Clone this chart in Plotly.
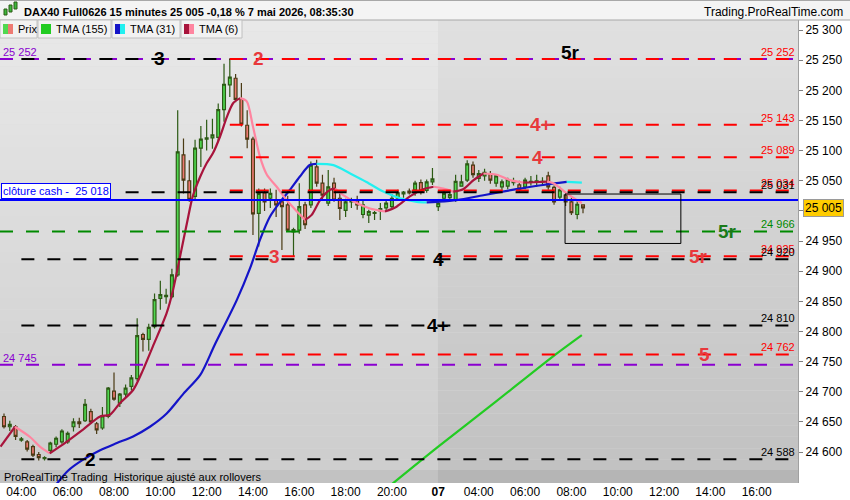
import plotly.graph_objects as go

# ---------------- data ----------------
bar_open = [24659, 24642, 24642, 24620, 24617, 24609, 24596, 24589, 24603, 24613,
            24617, 24617, 24642, 24650, 24652, 24667, 24647, 24640, 24659, 24701,
            24681, 24696, 24709, 24722, 24795, 24787, 24808, 24855, 24858, 24858,
            24894, 25093, 25050, 25024, 25104, 25119, 25121, 25122, 25168, 25209,
            25220, 25185, 25142, 25119, 24996, 25030, 25021, 25018, 25015, 25010,
            24965, 24968, 25010, 25010, 25073, 25046, 25013, 25046, 25021, 25001,
            25015, 25017, 24994, 24993, 24996, 25000, 25005, 25007, 25021, 25028,
            25033, 25035, 25047, 25034, 25048, 25007, 25021, 25022, 25018, 25041,
            25051, 25076, 25054, 25058, 25062, 25046, 25040, 25041, 25047, 25043,
            25040, 25048, 25049, 25048, 25058, 25039, 25023, 25026, 25015, 24994,
            25010]
bar_high = [24664, 24652, 24645, 24625, 24620, 24612, 24600, 24593, 24617, 24626,
            24638, 24634, 24656, 24657, 24688, 24672, 24650, 24675, 24708, 24732,
            24698, 24712, 24728, 24822, 24798, 24813, 24863, 24884, 24871, 24904,
            25167, 25120, 25084, 25118, 25141, 25151, 25153, 25178, 25244, 25252,
            25227, 25212, 25167, 25123, 25037, 25037, 25037, 25035, 25018, 25025,
            24972, 25046, 25015, 25082, 25085, 25060, 25068, 25055, 25030, 25020,
            25022, 25025, 25017, 25002, 25000, 25013, 25018, 25028, 25035, 25033,
            25037, 25050, 25052, 25052, 25071, 25018, 25033, 25030, 25060, 25060,
            25084, 25082, 25068, 25070, 25066, 25060, 25052, 25055, 25055, 25050,
            25055, 25058, 25060, 25056, 25065, 25042, 25040, 25030, 25022, 25016,
            25011]
bar_low = [24639, 24635, 24620, 24617, 24601, 24592, 24586, 24586, 24598, 24608,
           24614, 24614, 24634, 24640, 24650, 24647, 24630, 24637, 24656, 24685,
           24675, 24690, 24702, 24718, 24767, 24768, 24805, 24836, 24846, 24855,
           24891, 25029, 25015, 25019, 25073, 25100, 25103, 25115, 25148, 25189,
           25180, 25140, 25104, 24960, 24941, 25000, 25005, 24990, 24935, 24965,
           24925, 24962, 24970, 25005, 25040, 25018, 25008, 25015, 24985, 24990,
           25005, 25002, 24988, 24980, 24985, 24985, 24998, 25002, 25018, 25022,
           25027, 25025, 25027, 25030, 25043, 25000, 25015, 25018, 25015, 25040,
           25048, 25055, 25048, 25050, 25045, 25040, 25035, 25036, 25042, 25030,
           25036, 25042, 25040, 25042, 25035, 25010, 25018, 25008, 24993, 24986,
           24996]
bar_close = [24642, 24646, 24626, 24622, 24605, 24595, 24591, 24591, 24615, 24623,
             24635, 24631, 24650, 24647, 24679, 24650, 24637, 24660, 24706, 24688,
             24696, 24706, 24723, 24793, 24787, 24807, 24853, 24861, 24860, 24894,
             25098, 25051, 25019, 25104, 25119, 25121, 25126, 25168, 25210, 25222,
             25185, 25144, 25119, 24995, 25029, 25015, 25029, 25010, 25007, 24968,
             24969, 25007, 24977, 25076, 25046, 25026, 25040, 25018, 25004, 25015,
             25016, 25010, 25010, 24999, 24997, 25004, 25013, 25021, 25030, 25031,
             25030, 25046, 25032, 25048, 25053, 25013, 25029, 25027, 25049, 25048,
             25078, 25060, 25062, 25064, 25051, 25058, 25048, 25052, 25049, 25036,
             25051, 25049, 25050, 25049, 25040, 25015, 25035, 25015, 24997, 25011,
             25005]
bar_index = list(range(len(bar_open)))

# time axis labels (bar index of each label)
time_tick_bar = [3, 11, 19, 27, 35, 43, 51, 59, 67, 75, 82, 90, 98, 106, 114, 122, 130]
time_tick_text = ["04:00", "06:00", "08:00", "10:00", "12:00", "14:00", "16:00", "18:00",
                  "20:00", "<b>07</b>", "04:00", "06:00", "08:00", "10:00", "12:00",
                  "14:00", "16:00"]
price_ticks = [25300, 25250, 25200, 25150, 25100, 25050, 25000, 24950, 24900,
               24850, 24800, 24750, 24700, 24650, 24600]
last_price = 25005
cash_close = 25018

# TMA lines (bar position, value)
tma6_bar = [-0.6, 1.9, 4.5, 6.2, 7.9, 10.8, 13.6, 16.6, 18.3, 20.0, 22.3, 24.0, 25.7,
            28.1, 29.2, 30.4, 31.6, 32.6, 33.9, 35.0, 36.1, 37.3, 38.5, 39.6, 40.8,
            41.9, 43.0, 44.2, 45.4, 47.1, 48.8, 50.6, 52.0, 53.1, 54.6, 56.3, 57.2,
            58.6, 60.9, 63.2, 65.8, 67.8, 70.1, 72.4, 74.2, 75.9, 77.6, 79.3, 81.1,
            82.8, 85.1, 87.4, 89.7, 91.4, 93.8, 94.9, 97.2, 98.9, 99.8]
tma6_val = [24609, 24642, 24625, 24609, 24598, 24617, 24637, 24659, 24662, 24681, 24703,
            24736, 24775, 24831, 24869, 24924, 24980, 25024, 25057, 25079, 25096, 25123,
            25156, 25179, 25187, 25182, 25140, 25090, 25060, 25040, 25018, 24999, 24985,
            24993, 25018, 25035, 25037, 25026, 25013, 25004, 24999, 25007, 25024, 25036,
            25040, 25037, 25032, 25036, 25051, 25062, 25060, 25051, 25047, 25047.5,
            25048.5, 25046, 25029, 25018, 25013]
tma31_bar = [8.5, 11.05, 13.6, 16.6, 19.5, 22.3, 25.2, 28.1, 31.0, 33.9, 36.4, 40.2,
             42.5, 44.2, 45.9, 47.7, 49.4, 51.1, 52.8, 54.0, 56.9, 59.8, 62.6, 65.5,
             68.4, 71.3, 73.0, 74.7, 78.2, 82.8, 88.5, 93.1, 97.2, 99.8]
tma31_val = [24540, 24569, 24587, 24603, 24615, 24626, 24642, 24664, 24697, 24728,
             24778, 24852, 24905, 24952, 24990, 25015, 25035, 25057, 25076, 25078,
             25076, 25062, 25048, 25032, 25021, 25015, 25014, 25015, 25018, 25026,
             25036, 25043, 25048, 25047]
tma155_bar = [66.5, 75, 85, 95, 99.8]
tma155_val = [24543, 24609, 24684, 24760, 24794]

# horizontal levels
level_value = [25252, 25252, 25252, 25143, 25089, 25034, 25031, 24966,
               24925, 24920, 24810, 24762, 24745, 24588]
level_kind = ["purple", "black", "red", "red", "red", "red", "black", "green",
              "red", "black", "black", "red", "purple", "black"]
level_start_bar = [None, 3, 39, 39, 39, 39, 21, None, 39, 3, 3, 39, None, 3]
level_end_bar = [None, 39, None, None, None, None, None, None, None, None, None, None, None, None]
level_label_side = ["left", None, "right", "right", "right", "right", "right", "right",
                    "right", "right", "right", "right", "left", "right"]

tag_text = ["3", "2", "5r", "4+", "4", "5r", "3", "4", "5r", "4+", "5", "2"]
tag_bar = [26.9, 43.9, 97.8, 92.7, 92.1, 125.0, 46.8, 75.0, 120.0, 75.0, 120.9, 14.9]
tag_level = [25252, 25252, 25262, 25143, 25089, 24966, 24925, 24920, 24925, 24810, 24762, 24588]
tag_kind = ["black", "red", "black", "red", "red", "green", "red", "black", "red", "black", "red", "black"]

box_bars = [96.9, 116.9]
box_prices = [24946, 25028]

# ---------------- styles / geometry ----------------
W, H = 850, 500
ML, MR, MT, MB = 0, 52, 20, 17
PW, PH = W - ML - MR, H - MT - MB
BAR_PX = 5.79
X0_PX = 4.0
PX_PER_PT = 0.603


def xb(px):  # pixel -> bar index
    return (px - X0_PX) / BAR_PX


def yv(py):  # pixel -> price
    return 25300 - (py - 30) / PX_PER_PT


def XP(px):
    return (px - ML) / PW


def YP(py):
    return (H - MB - py) / PH


x_range = [xb(0), xb(PW)]
y_range = [yv(H - MB), yv(MT)]
day_split = 74.95

COL = {"red": "#ff0000", "black": "#000000", "purple": "#8a00d0", "green": "#008a00"}
TAG_COL = {"red": "#e8383c", "black": "#000000", "green": "#1a7a1a"}
LBL_COL = {"red": "#ff0000", "black": "#000000", "purple": "#8a00d0", "green": "#008a00"}
FONT = "Liberation Sans, Arial, sans-serif"


def fmt(v):
    return f"{int(round(v)):,}".replace(",", " ")


fig = go.Figure()

# candles
fig.add_trace(go.Candlestick(
    x=bar_index, open=bar_open, high=bar_high, low=bar_low, close=bar_close,
    increasing=dict(line=dict(color="#2c5a14", width=1.2), fillcolor="#50d850"),
    decreasing=dict(line=dict(color="#4a3a14", width=1.2), fillcolor="#ee7a72"),
    whiskerwidth=0, showlegend=False, hoverinfo="skip"))


def add_dir_line(xs, ys, up_col, down_col, width=2.2):
    n = len(xs)
    k = 0
    while k < n - 1:
        up = ys[k + 1] >= ys[k]
        j = k
        while j < n - 1 and (ys[j + 1] >= ys[j]) == up:
            j += 1
        fig.add_trace(go.Scatter(
            x=xs[k:j + 1], y=ys[k:j + 1], mode="lines",
            line=dict(color=up_col if up else down_col, width=width, shape="spline", smoothing=0.8),
            showlegend=False, hoverinfo="skip"))
        k = j


add_dir_line(tma155_bar, tma155_val, "#22cc22", "#22cc22")
add_dir_line(tma31_bar, tma31_val, "#1414c8", "#22f0f0")
add_dir_line(tma6_bar, tma6_val, "#a8143c", "#ff85a0")

shapes = []
# background gradient bands
NB = 40
for i in range(NB):
    t = (i + 0.5) / NB
    c1 = int(233 - 28 * t)
    c2 = int(225 - 32 * t)
    y0 = 1 - (i + 1) / NB
    y1 = 1 - i / NB
    shapes.append(dict(type="rect", xref="x", yref="paper", x0=x_range[0], x1=day_split,
                       y0=y0, y1=y1, fillcolor=f"rgb({c1},{c1},{c1})", line=dict(width=0),
                       layer="below"))
    shapes.append(dict(type="rect", xref="x", yref="paper", x0=day_split, x1=x_range[1],
                       y0=y0, y1=y1, fillcolor=f"rgb({c2},{c2},{c2})", line=dict(width=0),
                       layer="below"))
# footer band
shapes.append(dict(type="rect", xref="x", yref="paper", x0=x_range[0], x1=day_split,
                   y0=0, y1=YP(470), fillcolor="#c2c2c2", line=dict(width=0), layer="below"))
shapes.append(dict(type="rect", xref="x", yref="paper", x0=day_split, x1=x_range[1],
                   y0=0, y1=YP(470), fillcolor="#b5b5b5", line=dict(width=0), layer="below"))

# levels
for v, kind, s, e in zip(level_value, level_kind, level_start_bar, level_end_bar):
    x0 = x_range[0] if s is None else s
    x1 = x_range[1] if e is None else e
    shapes.append(dict(type="line", xref="x", yref="y", x0=x0, x1=x1, y0=v, y1=v,
                       line=dict(color=COL[kind], width=2, dash="13px,13px")))
# cash close line
shapes.append(dict(type="line", xref="paper", yref="y", x0=0, x1=1, y0=cash_close, y1=cash_close,
                   line=dict(color="#0000ff", width=2)))
# rectangle
shapes.append(dict(type="rect", xref="x", yref="y", x0=box_bars[0], x1=box_bars[1],
                   y0=box_prices[0], y1=box_prices[1], line=dict(color="#000000", width=1)))

# title bar
shapes.append(dict(type="rect", xref="paper", yref="paper", x0=XP(0), x1=XP(W), y0=YP(20), y1=YP(0),
                   fillcolor="#f4f4f4", line=dict(width=0)))
shapes.append(dict(type="line", xref="paper", yref="paper", x0=XP(0), x1=XP(W), y0=YP(20), y1=YP(20),
                   line=dict(color="#a8a8a8", width=1)))
shapes.append(dict(type="line", xref="paper", yref="paper", x0=XP(0), x1=XP(W), y0=YP(0.5), y1=YP(0.5),
                   line=dict(color="#a8a8a8", width=1)))
# icon
for (a, b, c, d, col) in [(4, 7, 9, 15, "#3cb83c"), (9, 12, 5, 12, "#3cb83c"), (14, 17, 2, 9, "#3cb83c")]:
    shapes.append(dict(type="rect", xref="paper", yref="paper", x0=XP(a), x1=XP(b), y0=YP(d), y1=YP(c),
                       fillcolor=col, line=dict(color="#2c5a14", width=1)))

# legend boxes
legend_items = [("Prix", 0, 37, ["#50d850", "#ee7a72"]),
                ("TMA (155)", 38, 111, ["#22cc22"]),
                ("TMA (31)", 112, 180, ["#1414c8", "#22f0f0"]),
                ("TMA (6)", 181, 242, ["#a8143c", "#ff85a0"])]
annotations = []
for name, a, b, cols in legend_items:
    shapes.append(dict(type="rect", xref="paper", yref="paper", x0=XP(a), x1=XP(b), y0=YP(38), y1=YP(20),
                       fillcolor="#f2f2f2", line=dict(color="#c0c0c0", width=1)))
    sw = 10 / len(cols)
    for k, c in enumerate(cols):
        shapes.append(dict(type="rect", xref="paper", yref="paper", x0=XP(a + 3 + k * sw),
                           x1=XP(a + 3 + (k + 1) * sw), y0=YP(34), y1=YP(24), fillcolor=c,
                           line=dict(width=0)))
    annotations.append(dict(xref="paper", yref="paper", x=XP(a + 16), y=YP(29), text=name,
                            showarrow=False, xanchor="left", yanchor="middle",
                            font=dict(family=FONT, size=11, color="#000")))

annotations.append(dict(xref="paper", yref="paper", x=XP(22), y=YP(12), showarrow=False,
                        xanchor="left", yanchor="middle",
                        text="<b>DAX40 Full0626 15 minutes 25 005 -0,18 % 7 mai 2026, 08:35:30</b>",
                        font=dict(family=FONT, size=11, color="#000")))
annotations.append(dict(xref="paper", yref="paper", x=XP(845), y=YP(12), showarrow=False,
                        xanchor="right", yanchor="middle", text="Trading.ProRealTime.com",
                        font=dict(family=FONT, size=12, color="#000")))
annotations.append(dict(xref="paper", yref="paper", x=XP(2), y=YP(476.5), showarrow=False,
                        xanchor="left", yanchor="middle",
                        text="ProRealTime Trading  Historique ajusté aux rollovers",
                        font=dict(family=FONT, size=11, color="#000")))

# level value labels
for v, kind, side in zip(level_value, level_kind, level_label_side):
    if side is None:
        continue
    annotations.append(dict(xref="paper", yref="y", x=XP(2) if side == "left" else XP(796), y=v,
                            xanchor="left" if side == "left" else "right", yanchor="bottom",
                            text=fmt(v), showarrow=False, borderpad=0, yshift=0,
                            font=dict(family=FONT, size=11, color=LBL_COL[kind])))

# tags
for t, b, v, kind in zip(tag_text, tag_bar, tag_level, tag_kind):
    annotations.append(dict(xref="x", yref="y", x=b, y=v, text=f"<b>{t}</b>", showarrow=False,
                            xanchor="center", yanchor="middle",
                            font=dict(family=FONT, size=19, color=TAG_COL[kind])))

# cash label
annotations.append(dict(xref="paper", yref="y", x=XP(1), y=cash_close, xanchor="left", yanchor="bottom",
                        text="clôture cash -  " + fmt(cash_close), showarrow=False,
                        bgcolor="#ffffff", bordercolor="#0000ff", borderwidth=1, borderpad=1, yshift=1,
                        font=dict(family=FONT, size=11, color="#0000ff")))
# last price box (covers the 25 000 tick label, as in the reference)
annotations.append(dict(xref="paper", yref="y", x=XP(803), y=last_price, xanchor="left", yanchor="middle",
                        text=fmt(last_price), showarrow=False, bgcolor="#ffcc00",
                        bordercolor="#9a9a9a", borderwidth=1, borderpad=1,
                        font=dict(family=FONT, size=12, color="#000")))

price_tick_text = ["" if abs(v - last_price) < 20 else fmt(v) for v in price_ticks]

fig.update_layout(
    width=W, height=H, margin=dict(l=ML, r=MR, t=MT, b=MB),
    paper_bgcolor="#ffffff", plot_bgcolor="#dcdcdc",
    showlegend=False, shapes=shapes, annotations=annotations,
    font=dict(family=FONT, size=12, color="#000"),
    xaxis=dict(range=x_range, tickvals=time_tick_bar, ticktext=time_tick_text, showgrid=False,
               zeroline=False, ticks="", showline=False, rangeslider=dict(visible=False),
               tickfont=dict(family=FONT, size=12, color="#000")),
    yaxis=dict(range=y_range, side="right", tickvals=price_ticks,
               ticktext=price_tick_text, showgrid=False, zeroline=False,
               ticks="outside", ticklen=4, tickcolor="#808080", showline=True,
               linecolor="#a0a0a0", linewidth=1,
               tickfont=dict(family=FONT, size=12, color="#000")),
)

fig.write_html("out.html", config={"displayModeBar": False},
               post_script="document.body.style.margin='0px';document.body.style.padding='0px';")
